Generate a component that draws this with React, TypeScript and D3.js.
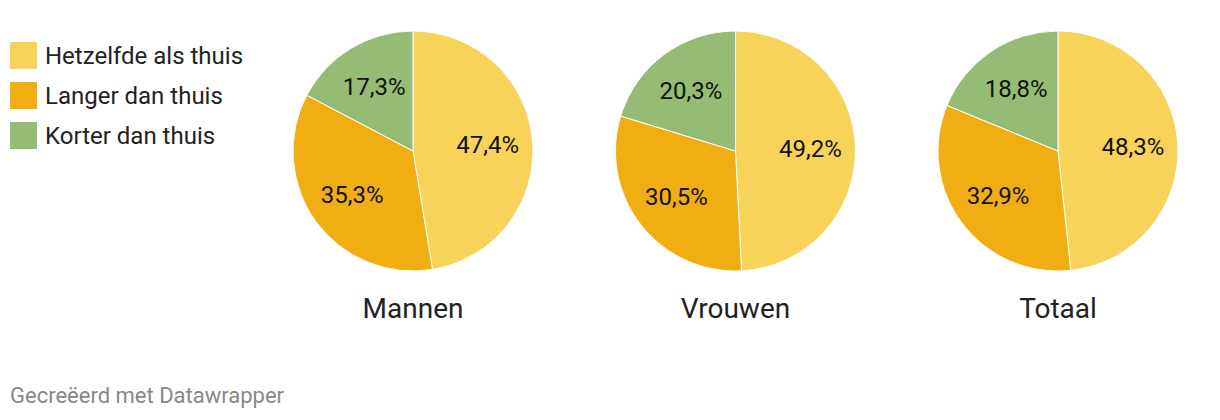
import React from "react";
import * as d3 from "d3";

const categories = ["Hetzelfde als thuis", "Langer dan thuis", "Korter dan thuis"];
const colors = ["#f8d359", "#f1ae12", "#95bc75"];
const groups = ["Mannen", "Vrouwen", "Totaal"];
const mannen = [47.4, 35.3, 17.3];
const vrouwen = [49.2, 30.5, 20.3];
const totaal = [48.3, 32.9, 18.8];
const series = [mannen, vrouwen, totaal];

const W = 1220;
const H = 420;
const FONT = "Roboto, sans-serif";

export default function App() {
  const x = d3.scalePoint<string>().domain(groups).range([413, 1058]);
  const r = 120;
  const cy = 151;
  const pie = d3.pie<number>().sort(null).value((d) => d);
  const arc = d3.arc<d3.PieArcDatum<number>>().innerRadius(0).outerRadius(r);
  const labelArc = d3.arc<d3.PieArcDatum<number>>().innerRadius(r * 0.625).outerRadius(r * 0.625);
  const fmt = (v: number) => v.toFixed(1).replace(".", ",") + "%";

  return (
    <svg width={W} height={H} style={{ position: "absolute", left: 0, top: 0, background: "#fff" }} fontFamily={FONT}>
      <g>
        {categories.map((c, i) => (
          <g key={c} transform={`translate(10, ${42 + i * 40})`}>
            <rect width={27} height={27} fill={colors[i]} />
            <text x={35} y={22} fontSize={24} fill="#222">{c}</text>
          </g>
        ))}
      </g>
      {groups.map((g, gi) => {
        const arcs = pie(series[gi]);
        const cx = x(g)!;
        return (
          <g key={g} transform={`translate(${cx}, ${cy})`}>
            {arcs.map((a, i) => (
              <path key={i} d={arc(a)!} fill={colors[i]} stroke="#fff" strokeWidth={1} />
            ))}
            {arcs.map((a, i) => {
              const [lx, ly] = labelArc.centroid(a);
              return (
                <text key={"l" + i} x={lx} y={ly} textAnchor="middle" dominantBaseline="central" fontSize={24} fill="#111">
                  {fmt(a.data)}
                </text>
              );
            })}
            <text x={0} y={157} textAnchor="middle" dominantBaseline="central" fontSize={28} fill="#222">{g}</text>
          </g>
        );
      })}
      <text x={10} y={403} fontSize={22} fill="#888">Gecreëerd met Datawrapper</text>
    </svg>
  );
}
